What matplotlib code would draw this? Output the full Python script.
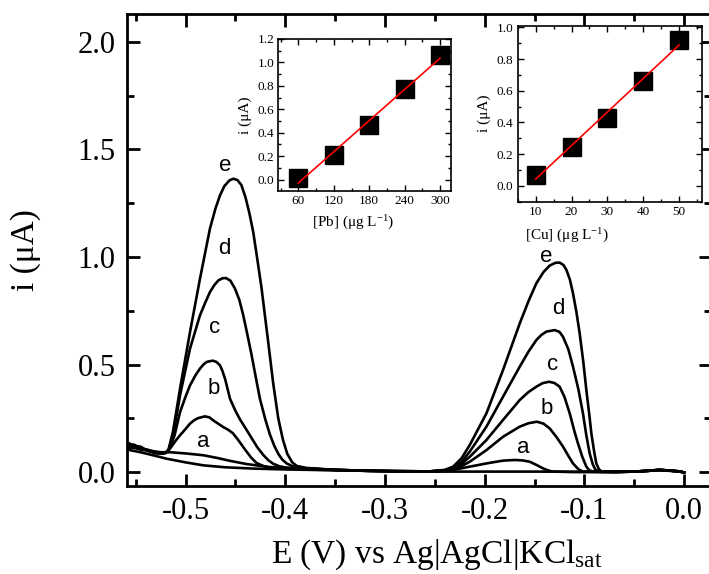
import numpy as np
import matplotlib.pyplot as plt
from matplotlib.ticker import MultipleLocator

plt.rcParams['font.family'] = 'Liberation Serif'
plt.rcParams['mathtext.fontset'] = 'custom'
plt.rcParams['mathtext.rm'] = 'Liberation Serif'
plt.rcParams['mathtext.it'] = 'Liberation Serif:italic'
plt.rcParams['axes.unicode_minus'] = False

# voltammograms, columns: E (V), i (uA)
curve_e = np.array([
    (-0.559, 0.130), (-0.552, 0.118), (-0.545, 0.112), (-0.538, 0.100), (-0.531, 0.092),
    (-0.525, 0.088), (-0.520, 0.090), (-0.5170, 0.105), (-0.5125, 0.190), (-0.5055, 0.388),
    (-0.4955, 0.651), (-0.4855, 0.899), (-0.4755, 1.132), (-0.4700, 1.225), (-0.4654, 1.287),
    (-0.4610, 1.330), (-0.4560, 1.356), (-0.4521, 1.364), (-0.4480, 1.358), (-0.4440, 1.335),
    (-0.4400, 1.280), (-0.4360, 1.205), (-0.4321, 1.116), (-0.4280, 0.990), (-0.4237, 0.853),
    (-0.4171, 0.605), (-0.4120, 0.410), (-0.4070, 0.250), (-0.4023, 0.150), (-0.3980, 0.085),
    (-0.3930, 0.045), (-0.3883, 0.028), (-0.3786, 0.019),
    (-0.350, 0.010), (-0.320, 0.006), (-0.290, 0.004), (-0.255, 0.003), (-0.240, 0.010),
    (-0.2316, 0.025), (-0.2230, 0.065), (-0.2149, 0.126), (-0.1982, 0.273), (-0.1816, 0.474),
    (-0.1648, 0.691), (-0.1560, 0.795), (-0.1481, 0.878), (-0.1410, 0.930), (-0.1348, 0.960),
    (-0.1290, 0.973), (-0.1248, 0.974), (-0.1210, 0.963), (-0.1180, 0.940), (-0.1145, 0.895),
    (-0.1114, 0.831), (-0.1080, 0.745), (-0.1047, 0.645), (-0.1010, 0.510), (-0.0980, 0.381),
    (-0.0950, 0.265), (-0.0930, 0.180), (-0.0900, 0.090), (-0.0880, 0.040), (-0.0855, 0.014),
    (-0.0830, 0.003), (-0.070, 0.0), (-0.050, 0.002), (-0.035, 0.006), (-0.025, 0.010),
    (-0.015, 0.007), (-0.005, 0.003), (0.0, -0.002)])

curve_d = np.array([
    (-0.559, 0.120), (-0.552, 0.128), (-0.545, 0.110), (-0.538, 0.104), (-0.531, 0.090),
    (-0.525, 0.086), (-0.520, 0.088), (-0.5170, 0.102), (-0.5120, 0.180), (-0.5055, 0.357),
    (-0.4955, 0.574), (-0.4855, 0.729), (-0.4800, 0.790), (-0.4755, 0.837), (-0.4710, 0.870),
    (-0.4671, 0.891), (-0.4630, 0.901), (-0.4594, 0.902), (-0.4550, 0.890), (-0.4504, 0.853),
    (-0.4460, 0.800), (-0.4421, 0.729), (-0.4380, 0.640), (-0.4337, 0.543), (-0.4295, 0.440),
    (-0.4254, 0.341), (-0.4200, 0.245), (-0.4154, 0.175), (-0.4110, 0.122), (-0.4070, 0.085),
    (-0.4030, 0.058), (-0.3983, 0.039), (-0.3920, 0.026), (-0.3853, 0.019), (-0.350, 0.010),
    (-0.320, 0.006), (-0.290, 0.004), (-0.255, 0.003), (-0.240, 0.008), (-0.2316, 0.017),
    (-0.2230, 0.048), (-0.2149, 0.095), (-0.1982, 0.211), (-0.1816, 0.350), (-0.1648, 0.490),
    (-0.1560, 0.560), (-0.1481, 0.614), (-0.1430, 0.638), (-0.1381, 0.653), (-0.1298, 0.660),
    (-0.1250, 0.652), (-0.1214, 0.629), (-0.1160, 0.570), (-0.1114, 0.490), (-0.1060, 0.385),
    (-0.1014, 0.273), (-0.0980, 0.170), (-0.0947, 0.087), (-0.0915, 0.035), (-0.0887, 0.009),
    (-0.083, 0.002), (-0.070, 0.0), (-0.050, 0.002), (-0.035, 0.006), (-0.025, 0.010),
    (-0.015, 0.007), (-0.005, 0.003), (0.0, -0.002)])

curve_c = np.array([
    (-0.559, 0.140), (-0.552, 0.122), (-0.545, 0.118), (-0.538, 0.098), (-0.531, 0.094),
    (-0.525, 0.085), (-0.520, 0.089), (-0.5170, 0.100), (-0.5110, 0.170), (-0.5055, 0.279),
    (-0.5000, 0.350), (-0.4955, 0.403), (-0.4900, 0.450), (-0.4855, 0.481), (-0.4820, 0.500),
    (-0.4788, 0.512), (-0.4728, 0.518), (-0.4690, 0.512), (-0.4654, 0.496), (-0.4630, 0.470),
    (-0.4604, 0.434), (-0.4580, 0.390), (-0.4554, 0.341), (-0.4500, 0.285), (-0.4454, 0.245),
    (-0.4400, 0.205), (-0.4340, 0.160), (-0.4280, 0.115), (-0.4221, 0.080), (-0.4170, 0.055),
    (-0.4123, 0.039), (-0.4060, 0.027), (-0.3986, 0.020), (-0.350, 0.010), (-0.320, 0.006),
    (-0.290, 0.004), (-0.255, 0.003), (-0.2400, 0.006), (-0.2316, 0.014), (-0.2230, 0.038),
    (-0.2149, 0.071), (-0.1982, 0.149), (-0.1816, 0.242), (-0.1648, 0.335), (-0.1560, 0.372),
    (-0.1481, 0.397), (-0.1420, 0.413), (-0.1355, 0.420), (-0.1300, 0.414), (-0.1248, 0.397),
    (-0.1200, 0.350), (-0.1147, 0.273), (-0.1100, 0.190), (-0.1064, 0.133), (-0.1020, 0.070),
    (-0.0980, 0.025), (-0.0950, 0.008), (-0.0914, 0.002), (-0.070, 0.0), (-0.050, 0.002),
    (-0.035, 0.006), (-0.025, 0.010), (-0.015, 0.007), (-0.005, 0.003), (0.0, -0.002)])

curve_b = np.array([
    (-0.559, 0.110), (-0.552, 0.116), (-0.545, 0.104), (-0.538, 0.100), (-0.531, 0.088),
    (-0.525, 0.086), (-0.520, 0.090), (-0.5155, 0.109), (-0.5100, 0.145), (-0.5055, 0.171),
    (-0.5000, 0.200), (-0.4955, 0.225), (-0.4910, 0.242), (-0.4872, 0.251), (-0.4805, 0.259),
    (-0.4760, 0.254), (-0.4721, 0.240), (-0.4670, 0.224), (-0.4621, 0.209), (-0.4570, 0.196),
    (-0.4524, 0.180), (-0.4470, 0.148), (-0.4404, 0.105), (-0.4340, 0.066), (-0.4287, 0.042),
    (-0.4220, 0.028), (-0.4154, 0.020), (-0.380, 0.012), (-0.350, 0.009), (-0.320, 0.006),
    (-0.290, 0.004), (-0.255, 0.003), (-0.2400, 0.005), (-0.2316, 0.012), (-0.2230, 0.028),
    (-0.2149, 0.048), (-0.1982, 0.102), (-0.1816, 0.164), (-0.1648, 0.211), (-0.1560, 0.227),
    (-0.1475, 0.234), (-0.1410, 0.225), (-0.1348, 0.203), (-0.1280, 0.163), (-0.1214, 0.118),
    (-0.1160, 0.075), (-0.1114, 0.040), (-0.1060, 0.013), (-0.1014, 0.002), (-0.080, 0.0),
    (-0.050, 0.002), (-0.035, 0.006), (-0.025, 0.010), (-0.015, 0.007), (-0.005, 0.003),
    (0.0, -0.002)])

curve_a = np.array([
    (-0.559, 0.125), (-0.552, 0.112), (-0.545, 0.108), (-0.538, 0.102), (-0.531, 0.096),
    (-0.525, 0.092), (-0.5155, 0.092), (-0.4988, 0.086), (-0.4821, 0.078), (-0.4688, 0.066),
    (-0.4554, 0.052), (-0.4387, 0.037), (-0.4154, 0.023), (-0.382, 0.015), (-0.350, 0.010),
    (-0.320, 0.006), (-0.290, 0.004), (-0.255, 0.003), (-0.2316, 0.010), (-0.2149, 0.025),
    (-0.1982, 0.040), (-0.1816, 0.053), (-0.1698, 0.056), (-0.1620, 0.054), (-0.1548, 0.048),
    (-0.1480, 0.033), (-0.1415, 0.017), (-0.1360, 0.007), (-0.1315, 0.002), (-0.110, 0.0),
    (-0.080, 0.0), (-0.050, 0.002), (-0.035, 0.006), (-0.025, 0.010), (-0.015, 0.007),
    (-0.005, 0.003), (0.0, -0.002)])

curve_blank = np.array([
    (-0.559, 0.105), (-0.545, 0.092), (-0.530, 0.075), (-0.519, 0.062), (-0.500, 0.045),
    (-0.482, 0.031), (-0.460, 0.022), (-0.432, 0.016), (-0.400, 0.012), (-0.350, 0.008),
    (-0.300, 0.004), (-0.250, 0.002), (-0.200, 0.002), (-0.150, 0.002), (-0.100, 0.001),
    (-0.050, 0.002), (-0.025, 0.008), (-0.005, 0.003), (0.0, -0.002)])

curve_names = ['a', 'b', 'c', 'd', 'e']
# letter anchors (E, i) near the Pb and Cu peaks
pb_label_pos = [(-0.4821, 0.140), (-0.4721, 0.388), (-0.4704, 0.674), (-0.4614, 1.039), (-0.4604, 1.426)]
cu_label_pos = [(-0.1615, 0.115), (-0.1381, 0.296), (-0.1315, 0.498), (-0.1264, 0.761), (-0.1381, 1.002)]

# calibration data
pb_conc = [60, 120, 180, 240, 300]
pb_current = [0.01, 0.21, 0.47, 0.77, 1.06]
cu_conc = [10, 20, 30, 40, 50]
cu_current = [0.07, 0.245, 0.43, 0.66, 0.92]

fig = plt.figure(figsize=(7.09, 5.74), dpi=100)
ax = fig.add_axes([0.1787, 0.1533, 0.8241, 0.8223])

for c in [curve_blank, curve_a, curve_b, curve_c, curve_d, curve_e]:
    ax.plot(c[:, 0], c[:, 1], color='black', lw=1.9, solid_joinstyle='round')

for name, (x, y) in zip(curve_names, pb_label_pos):
    ax.text(x, y, name, family='Liberation Sans', fontsize=16, ha='center', va='center')
for name, (x, y) in zip(curve_names, cu_label_pos):
    ax.text(x, y, name, family='Liberation Sans', fontsize=16, ha='center', va='center')

ax.set_xlim(-0.559, 0.027)
ax.set_ylim(-0.065, 2.13)
ax.xaxis.set_major_locator(MultipleLocator(0.1))
ax.xaxis.set_minor_locator(MultipleLocator(0.05))
ax.yaxis.set_major_locator(MultipleLocator(0.5))
ax.yaxis.set_minor_locator(MultipleLocator(0.25))
ax.tick_params(which='both', direction='in', top=True, right=True, width=2)
ax.tick_params(which='major', length=9, labelsize=22, pad=8)
ax.tick_params(which='minor', length=5)
for s in ax.spines.values():
    s.set_linewidth(2)
ax.set_xlabel(r'E (V) vs Ag|AgCl|KCl$_{\mathrm{sat}}$', fontsize=24)
ax.set_ylabel('i (μA)', fontsize=24)
ax.xaxis.set_label_coords(0.53, -0.11)
ax.yaxis.set_label_coords(-0.146, 0.5)


def inset(rect, conc, cur, xlim, ylim, xmaj, xmin, xlabel, xlabel_pos, ms):
    a = fig.add_axes(rect)
    a.plot(conc, cur, 's', color='black', ms=ms)
    p = np.polyfit(conc, cur, 1)
    xs = np.array([conc[0], conc[-1]])
    a.plot(xs, np.polyval(p, xs), color='red', lw=1.2)
    a.set_xlim(*xlim)
    a.set_ylim(*ylim)
    a.xaxis.set_major_locator(MultipleLocator(xmaj))
    a.xaxis.set_minor_locator(MultipleLocator(xmin))
    a.yaxis.set_major_locator(MultipleLocator(0.2))
    a.yaxis.set_minor_locator(MultipleLocator(0.1))
    a.tick_params(which='both', direction='in', top=True, right=True, width=1)
    a.tick_params(which='major', length=4, labelsize=9.5, pad=3)
    a.tick_params(which='minor', length=2)
    for s in a.spines.values():
        s.set_linewidth(1.2)
    a.set_xlabel(xlabel, fontsize=11)
    a.xaxis.set_label_coords(*xlabel_pos)
    a.set_ylabel('i (μA)', fontsize=11)
    return a


ax1 = inset([0.3925, 0.6678, 0.2437, 0.2643], pb_conc, pb_current, (26, 318.6), (-0.094, 1.2),
            60, 30, r'[Pb] (μg L$^{\mathrm{-1}}$)', (0.434, -0.155), 12.5)
ax2 = inset([0.7302, 0.6486, 0.2603, 0.3066], cu_conc, cu_current, (4.98, 56.5), (-0.101, 1.0105),
            10, 5, r'[Cu] (μg L$^{\mathrm{-1}}$)', (0.27, -0.145), 13)

fig.savefig('out.png', dpi=100)
